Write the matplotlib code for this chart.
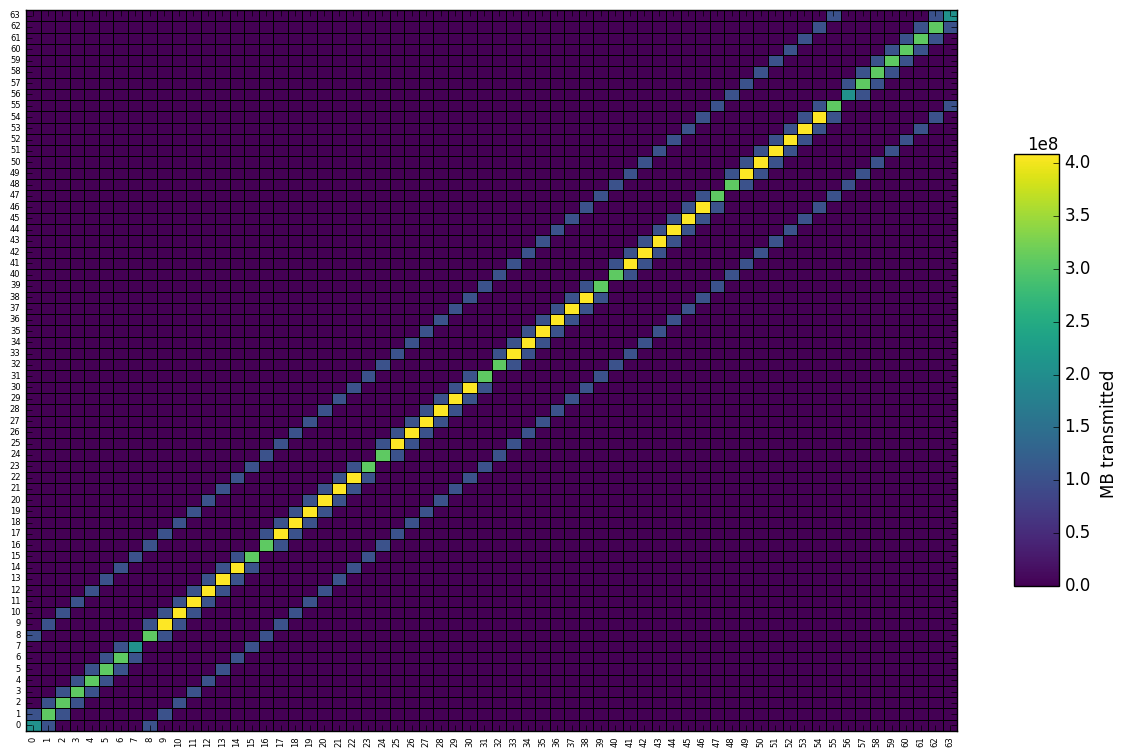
import numpy as np
import matplotlib.pyplot as plt

plt.style.use('classic')

# 64 ranks laid out on an 8 x 8 grid, each rank talks to its grid neighbours
nx, ny = 8, 8
link_mb = 1.022e8   # MB sent over one neighbour link

# diagonal = total per rank (number of neighbours x link volume)
diag_links = [2, 3, 3, 3, 3, 3, 3, 2,
              3, 4, 4, 4, 4, 4, 4, 3,
              3, 4, 4, 4, 4, 4, 4, 3,
              3, 4, 4, 4, 4, 4, 4, 3,
              3, 4, 4, 4, 4, 4, 4, 3,
              3, 4, 4, 4, 4, 4, 4, 3,
              3, 4, 4, 4, 4, 4, 4, 3,
              2, 3, 3, 3, 3, 3, 3, 2]

n = nx * ny
mat = np.zeros((n, n))
for p in range(n):
    r, c = divmod(p, nx)
    for dr, dc in [(0, 1), (0, -1), (1, 0), (-1, 0)]:
        rr, cc = r + dr, c + dc
        if 0 <= rr < ny and 0 <= cc < nx:
            mat[p, rr * nx + cc] = link_mb
    mat[p, p] = diag_links[p] * link_mb

fig = plt.figure(figsize=(11.28, 7.56), dpi=100)
ax = fig.add_axes([0.0231, 0.0331, 0.8254, 0.9537])
cax = fig.add_axes([0.8989, 0.2249, 0.0399, 0.5714])

mesh = ax.pcolormesh(mat, cmap='viridis', edgecolors='black', linewidth=0.7)
ax.set_xlim(0, n)
ax.set_ylim(0, n)
ax.set_xticks(np.arange(n) + 0.5)
ax.set_yticks(np.arange(n) + 0.5)
ax.set_xticklabels([str(i) for i in range(n)], rotation=90, fontsize=6)
ax.set_yticklabels([str(i) for i in range(n)], fontsize=6)

cb = fig.colorbar(mesh, cax=cax)
cb.set_label('MB transmitted')
cb.ax.yaxis.set_label_coords(1.91, 0.352)

fig.savefig('out.png', dpi=100)
